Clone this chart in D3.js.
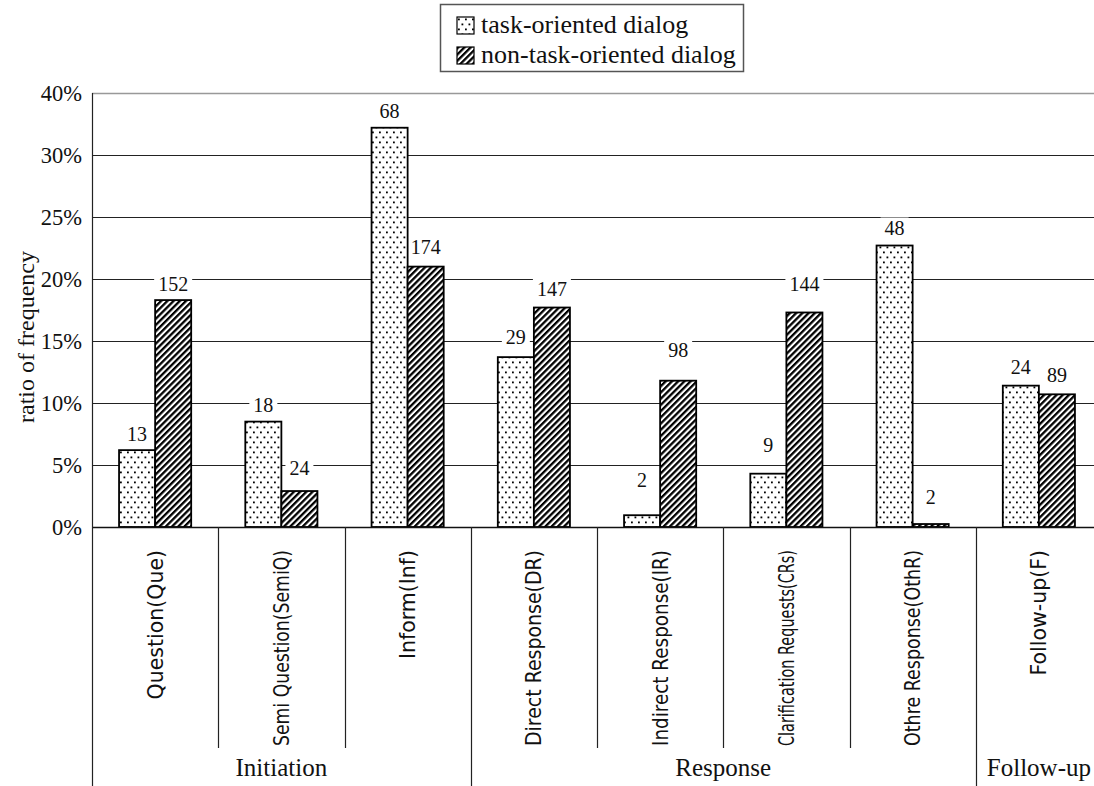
<!DOCTYPE html>
<html>
<head>
<meta charset="utf-8">
<script src="https://cdn.jsdelivr.net/npm/d3@7"></script>
<style>
  html, body { margin: 0; padding: 0; background: #fff; }
  svg { display: block; }
</style>
</head>
<body>
<svg id="chart" width="1094" height="786"></svg>
<script>
// ---------------- data ----------------
const categories = [
  "Question(Que)", "Semi Question(SemiQ)", "Inform(Inf)",
  "Direct Response(DR)", "Indirect Response(IR)", "Clarification Requests(CRs)",
  "Othre Response(OthR)", "Follow-up(F)"
];
const categoryGroup = ["Initiation", "Initiation", "Initiation",
  "Response", "Response", "Response", "Response", "Follow-up"];
const groups = ["Initiation", "Response", "Follow-up"];
const seriesNames = ["task-oriented dialog", "non-task-oriented dialog"];
// ratio of frequency (%)
const taskRatio    = [6.2, 8.5, 32.2, 13.7, 0.95, 4.3, 22.7, 11.4];
const nonTaskRatio = [18.3, 2.9, 21.0, 17.7, 11.8, 17.3, 0.24, 10.7];
// counts printed above the bars
const taskCount    = [13, 18, 68, 29, 2, 9, 48, 24];
const nonTaskCount = [152, 24, 174, 147, 98, 144, 2, 89];
const yTickValues = [0, 5, 10, 15, 20, 25, 30, 35];
const yTickLabels = ["0%", "5%", "10%", "15%", "20%", "25%", "30%", "40%"];

// ---------------- style (label lift above bar top, px) ----------------
const labelLift = [
  [16, 17, 17, 20, 35, 29, 18, 19],
  [16, 23, 20, 19, 31, 28, 27, 19]
];

// ---------------- layout ----------------
const svg = d3.select("#chart");
const plot = { left: 92, right: 1102, top: 93, bottom: 527 };
const serif = "Liberation Serif, Times New Roman, serif";
const sans = "DejaVu Sans, Noto Sans, sans-serif";

const x = d3.scaleBand().domain(categories).range([plot.left, plot.right]).padding(0);
const x1 = d3.scaleBand().domain(seriesNames).range([0, x.bandwidth()]).paddingInner(0).paddingOuter(0.75);
const y = d3.scaleLinear().domain([0, 35]).range([plot.bottom, plot.top]);

// patterns
const defs = svg.append("defs");
const dots = defs.append("pattern").attr("id", "dots")
  .attr("patternUnits", "userSpaceOnUse").attr("width", 7).attr("height", 10);
dots.append("rect").attr("width", 7).attr("height", 10).attr("fill", "#fff");
dots.append("rect").attr("x", 1).attr("y", 1.5).attr("width", 1.8).attr("height", 1.8).attr("fill", "#000");
dots.append("rect").attr("x", 4.5).attr("y", 6.5).attr("width", 1.8).attr("height", 1.8).attr("fill", "#000");

const hatch = defs.append("pattern").attr("id", "hatch")
  .attr("patternUnits", "userSpaceOnUse").attr("width", 4.4).attr("height", 10)
  .attr("patternTransform", "rotate(45)");
hatch.append("rect").attr("width", 4.4).attr("height", 10).attr("fill", "#fff");
hatch.append("rect").attr("width", 2.3).attr("height", 10).attr("fill", "#000");

const fills = ["url(#dots)", "url(#hatch)"];

// gridlines
const grid = svg.append("g");
grid.selectAll("line").data(yTickValues).join("line")
  .attr("x1", plot.left).attr("x2", plot.right)
  .attr("y1", d => Math.round(y(d)) + 0.5).attr("y2", d => Math.round(y(d)) + 0.5)
  .attr("stroke", (d, i) => i === yTickValues.length - 1 ? "#999" : "#222")
  .attr("stroke-width", (d, i) => i === yTickValues.length - 1 ? 1.5 : 1);

// y axis (labels)
const yAxis = d3.axisLeft(y).tickValues(yTickValues)
  .tickFormat((d, i) => yTickLabels[i]).tickSize(0).tickPadding(10);
const yg = svg.append("g").attr("transform", `translate(${plot.left},0)`).call(yAxis);
yg.attr("font-family", null).attr("font-size", null);
yg.select(".domain").remove();
yg.selectAll("text").style("font-family", serif).style("font-size", "22.5px").attr("fill", "#111");

// y axis title
svg.append("text")
  .attr("transform", `translate(34,337) rotate(-90)`)
  .attr("text-anchor", "middle")
  .style("font-family", serif).style("font-size", "24px").attr("fill", "#111")
  .text("ratio of frequency");

// bars
const series = [taskRatio, nonTaskRatio];
const counts = [taskCount, nonTaskCount];
const barData = [];
categories.forEach((c, i) => {
  seriesNames.forEach((s, k) => {
    barData.push({ cat: c, ser: s, k, i, v: series[k][i], n: counts[k][i] });
  });
});

// labels (drawn before bars so bars stay on top)
const lab = svg.append("g").selectAll("g").data(barData).join("g")
  .attr("transform", d => `translate(${x(d.cat) + x1(d.ser) + x1.bandwidth() / 2},${y(d.v) - labelLift[d.k][d.i]})`);
lab.append("text")
  .attr("text-anchor", "middle").attr("y", 7)
  .style("font-family", serif).style("font-size", "20px").attr("fill", "#111")
  .text(d => d.n);
lab.each(function () {
  const g = d3.select(this);
  const bb = g.select("text").node().getBBox();
  g.insert("rect", "text")
    .attr("x", bb.x - 4).attr("y", -10).attr("width", bb.width + 8).attr("height", 20)
    .attr("fill", "#fff");
});

svg.append("g").selectAll("rect").data(barData).join("rect")
  .attr("x", d => x(d.cat) + x1(d.ser))
  .attr("y", d => y(d.v))
  .attr("width", x1.bandwidth())
  .attr("height", d => y(0) - y(d.v))
  .attr("fill", d => fills[d.k])
  .attr("stroke", "#000").attr("stroke-width", 1.8);

// baseline
svg.append("line").attr("x1", plot.left).attr("x2", plot.right)
  .attr("y1", plot.bottom + 0.5).attr("y2", plot.bottom + 0.5)
  .attr("stroke", "#111").attr("stroke-width", 1.3);

// category separators (left axis line included)
const bounds = d3.range(categories.length);
const isGroupEdge = b => b === 0 || categoryGroup[b] !== categoryGroup[b - 1];
svg.append("g").selectAll("line").data(bounds).join("line")
  .attr("x1", b => Math.round(x(categories[b])) + 0.5)
  .attr("x2", b => Math.round(x(categories[b])) + 0.5)
  .attr("y1", b => b === 0 ? plot.top : plot.bottom)
  .attr("y2", b => isGroupEdge(b) ? 786 : 748)
  .attr("stroke", "#222").attr("stroke-width", 1.2);

// category labels (rotated)
const maxLabel = 196;
svg.append("g").selectAll("text").data(categories).join("text")
  .attr("transform", d => `translate(${x(d) + x.bandwidth() / 2 + 7.5},550) rotate(-90)`)
  .attr("text-anchor", "end")
  .style("font-family", sans).style("font-size", "20.5px").attr("fill", "#111")
  .text(d => d)
  .each(function () {
    const len = this.getComputedTextLength();
    if (len > maxLabel) d3.select(this).attr("textLength", maxLabel).attr("lengthAdjust", "spacingAndGlyphs");
  });

// group labels
svg.append("g").selectAll("text").data(groups).join("text")
  .attr("x", g => {
    const idx = categories.map((c, i) => i).filter(i => categoryGroup[i] === g);
    const x0 = x(categories[idx[0]]);
    const xe = x(categories[idx[idx.length - 1]]) + x.bandwidth();
    return (x0 + xe) / 2;
  })
  .attr("y", 776)
  .attr("text-anchor", "middle")
  .style("font-family", serif).style("font-size", "25px").attr("fill", "#111")
  .text(g => g);

// legend
const legend = svg.append("g");
legend.append("rect").attr("x", 440.5).attr("y", 4.5).attr("width", 303).attr("height", 67)
  .attr("fill", "#fff").attr("stroke", "#555").attr("stroke-width", 1.5);
const li = legend.selectAll("g").data(seriesNames).join("g")
  .attr("transform", (d, i) => `translate(457,${17 + i * 30})`);
li.append("rect").attr("width", 17).attr("height", 17)
  .attr("fill", (d, i) => fills[i]).attr("stroke", "#000").attr("stroke-width", 1.2);
li.append("text").attr("x", 24).attr("y", 16)
  .style("font-family", serif).style("font-size", "26px").attr("fill", "#111")
  .text(d => d);
</script>
</body>
</html>
